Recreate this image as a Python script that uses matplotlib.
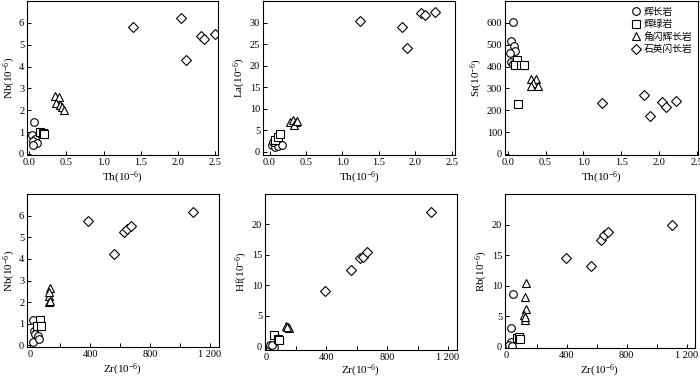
import matplotlib
matplotlib.use("Agg")
import matplotlib.pyplot as plt
from matplotlib.ticker import FixedLocator, FixedFormatter

plt.rcParams['font.family'] = ['Liberation Serif', 'DejaVu Serif']
plt.rcParams['mathtext.default'] = 'regular'
plt.rcParams['axes.linewidth'] = 0.8

rock_names = ["辉长岩", "辉绿岩", "角闪辉长岩", "石英闪长岩"]
markers = ["o", "s", "^", "D"]

# Th - Nb
th_nb_x = [[0.06, 0.04, 0.08, 0.05, 0.10, 0.05],
           [0.15, 0.18, 0.20],
           [0.35, 0.40, 0.36, 0.42, 0.44, 0.47],
           [1.40, 2.04, 2.11, 2.31, 2.35, 2.50]]
th_nb_y = [[1.48, 0.85, 0.68, 0.58, 0.50, 0.40],
           [1.0, 0.95, 0.92],
           [2.65, 2.62, 2.35, 2.25, 2.15, 2.0],
           [5.8, 6.2, 4.3, 5.4, 5.27, 5.5]]

# Th - La
th_la_x = [[0.03, 0.07, 0.11, 0.17, 0.05],
           [0.08, 0.12, 0.15],
           [0.28, 0.32, 0.36, 0.33, 0.38],
           [1.24, 1.82, 1.89, 2.08, 2.14, 2.27]]
th_la_y = [[1.5, 1.0, 1.2, 1.6, 2.2],
           [2.8, 3.5, 4.0],
           [6.8, 7.3, 7.0, 6.2, 7.2],
           [30.4, 29.0, 24.1, 32.2, 31.8, 32.5]]

# Th - Sr
th_sr_x = [[0.07, 0.05, 0.09, 0.10, 0.03, 0.05, 0.07],
           [0.12, 0.10, 0.17, 0.22, 0.14],
           [0.31, 0.38, 0.34, 0.31, 0.40],
           [1.24, 1.80, 1.88, 2.04, 2.09, 2.22]]
th_sr_y = [[602, 515, 492, 469, 461, 423, 410],
           [428, 408, 408, 405, 228],
           [345, 342, 325, 313, 313],
           [235, 270, 174, 237, 217, 244]]

# Zr - Nb
zr_nb_x = [[16, 22, 33, 49, 18, 56],
           [62, 44, 73],
           [129, 122, 122, 133, 122],
           [384, 560, 627, 644, 671, 1089]]
zr_nb_y = [[1.2, 0.68, 0.52, 0.42, 0.18, 0.32],
           [1.16, 0.89, 0.92],
           [2.65, 2.3, 2.0, 2.05, 2.45],
           [5.77, 4.24, 5.25, 5.39, 5.5, 6.18]]

# Zr - Hf
zr_hf_x = [[30, 55, 42],
           [52, 80, 88],
           [136, 145, 152, 140],
           [391, 560, 622, 642, 670, 1088]]
zr_hf_y = [[0.25, -0.1, 0.1],
           [1.75, 1.2, 1.05],
           [3.35, 3.2, 3.0, 3.1],
           [9.1, 12.5, 14.5, 14.7, 15.5, 22.0]]

# Zr - Rb
zr_rb_x = [[42, 27, 28, 18, 38],
           [67, 85, 90],
           [127, 125, 130, 115, 120, 125],
           [396, 562, 631, 649, 673, 1102]]
zr_rb_y = [[8.7, 3.1, 0.7, 0.2, 0.05],
           [1.4, 1.6, 1.2],
           [10.5, 8.1, 6.2, 5.1, 4.3, 4.8],
           [14.6, 13.2, 17.6, 18.4, 18.8, 20.0]]

th_ticks = [0.0, 0.5, 1.0, 1.5, 2.0, 2.5]
th_ticklabels = ["0.0", "0.5", "1.0", "1.5", "2.0", "2.5"]
zr_ticks = [0, 200, 400, 600, 800, 1000, 1200]
zr_ticklabels = ["0", "", "400", "", "800", "", "1 200"]


def panel(ax, xs, ys, xlabel, ylabel, xlim, ylim, xticks, xticklabels, yticks, xpad=2):
    for i in range(4):
        ax.plot(xs[i], ys[i], linestyle="none", marker=markers[i],
                markersize=5.5 if markers[i] != "D" else 4.8,
                markerfacecolor="white", markeredgecolor="black",
                markeredgewidth=0.8, label=rock_names[i])
    ax.set_xlim(*xlim)
    ax.set_ylim(*ylim)
    ax.xaxis.set_major_locator(FixedLocator(xticks))
    ax.xaxis.set_major_formatter(FixedFormatter(xticklabels))
    ax.yaxis.set_major_locator(FixedLocator(yticks))
    ax.tick_params(direction="in", length=3, width=0.7, labelsize=7.5, pad=2)
    ax.set_xlabel(xlabel, fontsize=8, labelpad=xpad)
    ax.set_ylabel(ylabel, fontsize=8, labelpad=1)


fig = plt.figure(figsize=(7, 3.8), dpi=100)
a1 = fig.add_axes([27 / 700, 1 - 155 / 380, 191 / 700, 154 / 380])
a2 = fig.add_axes([263 / 700, 1 - 155 / 380, 192 / 700, 154 / 380])
a3 = fig.add_axes([505 / 700, 1 - 155 / 380, 193 / 700, 154 / 380])
a4 = fig.add_axes([27 / 700, 1 - 347 / 380, 192 / 700, 153 / 380])
a5 = fig.add_axes([265 / 700, 1 - 350 / 380, 192 / 700, 156 / 380])
a6 = fig.add_axes([505 / 700, 1 - 348 / 380, 190 / 700, 154 / 380])

th_label = "Th(10$^{-6}$)"
zr_label = "Zr(10$^{-6}$)"
panel(a1, th_nb_x, th_nb_y, th_label, "Nb(10$^{-6}$)", (-0.03, 2.54), (-0.05, 7.0),
      th_ticks, th_ticklabels, range(0, 7))
panel(a2, th_la_x, th_la_y, th_label, "La(10$^{-6}$)", (-0.09, 2.545), (-0.8, 35.1),
      th_ticks, th_ticklabels, range(0, 31, 5))
panel(a3, th_sr_x, th_sr_y, th_label, "Sr(10$^{-6}$)", (-0.035, 2.51), (-5, 700),
      th_ticks, th_ticklabels, range(0, 601, 100))
panel(a4, zr_nb_x, zr_nb_y, zr_label, "Nb(10$^{-6}$)", (-22, 1262), (-0.07, 7.0),
      zr_ticks, zr_ticklabels, range(0, 7))
panel(a5, zr_hf_x, zr_hf_y, zr_label, "Hf(10$^{-6}$)", (-5, 1260), (-0.65, 25),
      zr_ticks, zr_ticklabels, range(0, 21, 5), xpad=0.5)
panel(a6, zr_rb_x, zr_rb_y, zr_label, "Rb(10$^{-6}$)", (-11, 1256), (-0.27, 25.1),
      zr_ticks, zr_ticklabels, range(0, 21, 5))

a3.legend(loc="upper right", frameon=False, handletextpad=0.3, labelspacing=0.25,
          borderaxespad=0.2, handlelength=1.0,
          prop={"family": ["Noto Sans CJK SC", "DejaVu Sans"], "size": 7})

fig.savefig("out.png", dpi=100)
